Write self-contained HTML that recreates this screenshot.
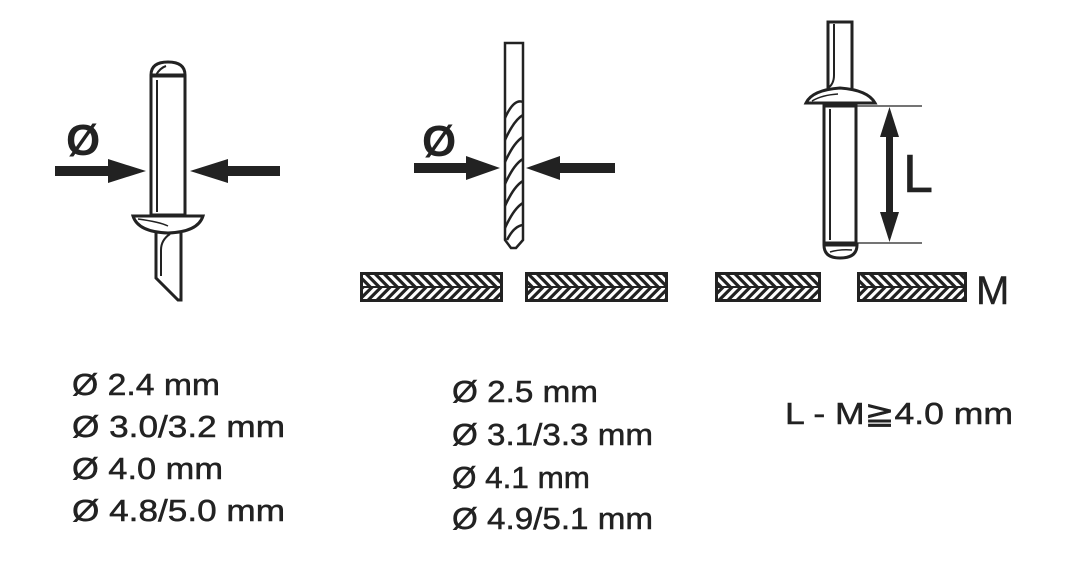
<!DOCTYPE html>
<html><head><meta charset="utf-8"><style>
html,body{margin:0;padding:0;background:#fff;}
svg{display:block}
text{font-family:"Liberation Sans",sans-serif;fill:#222}
</style></head><body>
<svg width="1080" height="566" viewBox="0 0 1080 566" xmlns="http://www.w3.org/2000/svg">
<defs>
<pattern id="hb" width="9" height="30" patternUnits="userSpaceOnUse" patternTransform="skewX(45)">
<rect width="9" height="30" fill="#fff"/>
<rect x="0" y="0" width="4.5" height="30" fill="#222"/>
</pattern>
<pattern id="hf" width="9" height="30" patternUnits="userSpaceOnUse" patternTransform="skewX(-45)">
<rect width="9" height="30" fill="#fff"/>
<rect x="0" y="0" width="4.5" height="30" fill="#222"/>
</pattern>
</defs>
<g stroke="#222" fill="none">
<path d="M151,75 Q151,62 168,62 Q185,62 185,75 Z" stroke-width="3" fill="#fff"/>
<path d="M156,75 Q160,68 166,66" stroke-width="2"/>
<line x1="151" y1="76" x2="185" y2="76" stroke-width="3"/>
<rect x="151" y="76" width="34" height="139" stroke-width="3"/>
<line x1="157" y1="80" x2="157" y2="212" stroke-width="2"/>
<path d="M133,216 L203,216 Q198,232 168,233 Q138,232 133,216 Z" stroke-width="3"/>
<path d="M138,219 Q160,222 168,226" stroke-width="1.5"/>
<path d="M156,233 L156,278 L178,300 L181,300 L181,233" stroke-width="3"/>
<path d="M170,234 Q161,240 161,250 L161,276" stroke-width="2"/>
</g>
<g fill="#222">
<rect x="55" y="166" width="58" height="10"/>
<polygon points="108,159 146,171 108,183"/>
<rect x="224" y="166" width="56" height="10"/>
<polygon points="228,159 190,171 228,183"/>
<text x="66" y="155" font-size="44" font-weight="bold">Ø</text>
</g>
<g stroke="#222" fill="none" stroke-width="2.5">
<path d="M505,43 H523 V240 L516,248 H511 L505,240 Z" fill="#fff"/>
<path d="M505,118 Q514,98 523,102"/>
<path d="M505,140 Q514,120 523,115"/>
<path d="M505,162 Q514,142 523,137"/>
<path d="M505,184 Q514,164 523,159"/>
<path d="M505,206 Q514,186 523,181"/>
<path d="M505,228 Q514,208 523,203"/>
<path d="M507,240 Q514,226 523,225"/>
</g>
<g fill="#222">
<rect x="414" y="163" width="56" height="10"/>
<polygon points="466,156 500,168 466,180"/>
<rect x="558" y="163" width="57" height="10"/>
<polygon points="560,156 526,168 560,180"/>
<text x="422" y="156" font-size="44" font-weight="bold">Ø</text>
</g>
<g stroke="#222">
<rect x="360" y="272" width="143" height="15" fill="url(#hb)" stroke="none"/>
<rect x="360" y="287" width="143" height="15" fill="url(#hf)" stroke="none"/>
<rect x="361.5" y="273.5" width="140" height="27" fill="none" stroke-width="3"/>
<line x1="360" y1="287" x2="503" y2="287" stroke-width="2"/>
<rect x="525" y="272" width="143" height="15" fill="url(#hb)" stroke="none"/>
<rect x="525" y="287" width="143" height="15" fill="url(#hf)" stroke="none"/>
<rect x="526.5" y="273.5" width="140" height="27" fill="none" stroke-width="3"/>
<line x1="525" y1="287" x2="668" y2="287" stroke-width="2"/>
<rect x="715" y="272" width="106" height="15" fill="url(#hb)" stroke="none"/>
<rect x="715" y="287" width="106" height="15" fill="url(#hf)" stroke="none"/>
<rect x="716.5" y="273.5" width="103" height="27" fill="none" stroke-width="3"/>
<line x1="715" y1="287" x2="821" y2="287" stroke-width="2"/>
<rect x="857" y="272" width="110" height="15" fill="url(#hb)" stroke="none"/>
<rect x="857" y="287" width="110" height="15" fill="url(#hf)" stroke="none"/>
<rect x="858.5" y="273.5" width="107" height="27" fill="none" stroke-width="3"/>
<line x1="857" y1="287" x2="967" y2="287" stroke-width="2"/>
</g>
<g stroke="#222" fill="none">
<rect x="828" y="22" width="24" height="68" stroke-width="3" fill="#fff"/>
<path d="M834,24 L834,75 Q834,84 828,88" stroke-width="2"/>
<path d="M806,103 Q812,90 840,88 Q868,90 875,103 Z" stroke-width="3" fill="#fff"/>
<path d="M812,101 Q822,95 838,94" stroke-width="1.5"/>
<rect x="824" y="106" width="32" height="137" stroke-width="3"/>
<line x1="830" y1="109" x2="830" y2="240" stroke-width="2"/>
<path d="M824,245 H857 Q857,258 840,258 Q824,258 824,245 Z" stroke-width="3"/>
<path d="M830,252 Q840,249 852,250" stroke-width="1.5"/>
<line x1="856" y1="106" x2="922" y2="106" stroke-width="1.2"/>
<line x1="856" y1="243" x2="922" y2="243" stroke-width="1.2"/>
</g>
<g fill="#222">
<rect x="886" y="128" width="7" height="94"/>
<polygon points="889.5,107 880,137 899,137"/>
<polygon points="889.5,242 880,212 899,212"/>
<text x="903" y="192" font-size="54" stroke="#222" stroke-width="0.5">L</text>
<text x="976" y="304" font-size="40" stroke="#222" stroke-width="0.4">M</text>
</g>
<g font-size="31" stroke="#222" stroke-width="0.5">
<text x="72" y="395" textLength="148" lengthAdjust="spacingAndGlyphs">Ø 2.4 mm</text>
<text x="72" y="437" textLength="213" lengthAdjust="spacingAndGlyphs">Ø 3.0/3.2 mm</text>
<text x="72" y="479" textLength="151" lengthAdjust="spacingAndGlyphs">Ø 4.0 mm</text>
<text x="72" y="521" textLength="213" lengthAdjust="spacingAndGlyphs">Ø 4.8/5.0 mm</text>
<text x="452" y="402" textLength="146" lengthAdjust="spacingAndGlyphs">Ø 2.5 mm</text>
<text x="452" y="445" textLength="201" lengthAdjust="spacingAndGlyphs">Ø 3.1/3.3 mm</text>
<text x="452" y="488" textLength="138" lengthAdjust="spacingAndGlyphs">Ø 4.1 mm</text>
<text x="452" y="529" textLength="201" lengthAdjust="spacingAndGlyphs">Ø 4.9/5.1 mm</text>
<text x="785" y="424" textLength="228" lengthAdjust="spacingAndGlyphs">L - M≧4.0 mm</text>
</g>
</svg>
</body></html>
